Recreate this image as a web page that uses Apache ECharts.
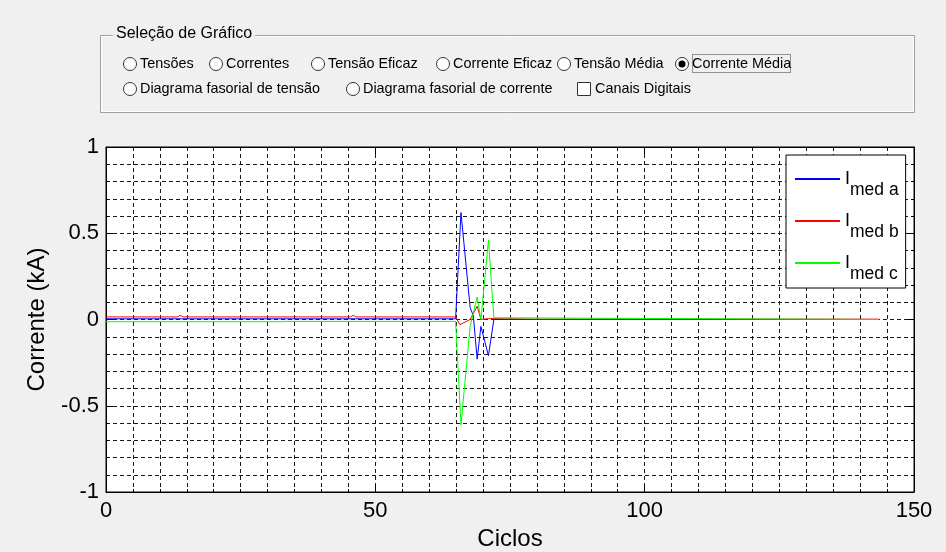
<!DOCTYPE html>
<html>
<head>
<meta charset="utf-8">
<script src="https://cdn.jsdelivr.net/npm/echarts@6/dist/echarts.min.js"></script>
<style>
html,body{margin:0;padding:0;background:#f0f0f0;}
#c{width:946px;height:552px;}
</style>
</head>
<body>
<div id="c"></div>
<script>
// ---- data ----
const seriesNames = ['Imed a', 'Imed b', 'Imed c'];
const ciclosA   = [0,     30,    64.9,  65.9, 67.6, 68.2, 68.9,  69.6,  71.0,  72.0, 80.2, 143.5];
const correnteA = [0.004, 0.004, 0.004, 0.62, 0.07, 0.02, -0.23, -0.04, -0.21, 0.0,  0.0,  0.0];
const ciclosB   = [0,     13.3,  13.8,  14.3,  45.4,  45.9,  46.4,  64.9,  65.7,  67.6, 68.9, 69.6, 71.0, 72.0,  80.2, 143.5];
const correnteB = [0.015, 0.015, 0.025, 0.015, 0.015, 0.025, 0.015, 0.015, -0.03, 0.0,  0.077, 0.0, 0.005, 0.005, 0.002, 0.002];
const ciclosC   = [0,      33.0,   33.4,   64.9,   65.9,  67.6,  68.9, 69.6, 71.0, 72.0, 143.5];
const correnteC = [-0.013, -0.013, -0.011, -0.011, -0.61, -0.04, 0.13, 0.0,  0.46, 0.01, 0.0];
const xTicks = {min: 0, max: 150, major: 50, minorSplit: 10};
const yTicks = {min: -1, max: 1, major: 0.5, minorSplit: 5};
const radioRow1 = ['Tensões', 'Correntes', 'Tensão Eficaz', 'Corrente Eficaz', 'Tensão Média', 'Corrente Média'];
const radioRow2 = ['Diagrama fasorial de tensão', 'Diagrama fasorial de corrente'];
const checkLabel = 'Canais Digitais';
const panelTitle = 'Seleção de Gráfico';

const zip = (xs, ys) => xs.map((x, i) => [x, ys[i]]);
const FONT = 'Liberation Sans, Arial, sans-serif';

// ---- panel graphics ----
const graphics = [];
graphics.push({type:'rect', shape:{x:100.5, y:35.5, width:814, height:77},
  style:{fill:'none', stroke:'#a0a0a0', lineWidth:1}, silent:true});
graphics.push({type:'rect', shape:{x:101.5, y:36.5, width:812, height:75},
  style:{fill:'none', stroke:'#ffffff', lineWidth:1}, silent:true});
graphics.push({type:'text', left:113, top:26, style:{text:panelTitle, font:'16px ' + FONT,
  fill:'#000', backgroundColor:'#f0f0f0', padding:[0,3,0,3]}});
const row1X = [130, 216, 318, 443, 564, 682];
const row2X = [130, 353];
function radio(cx, cy, label, selected) {
  graphics.push({type:'circle', shape:{cx:cx, cy:cy, r:6.5},
    style:{fill:'#fff', stroke:'#333', lineWidth:1}});
  if (selected) graphics.push({type:'circle', shape:{cx:cx, cy:cy, r:3.5}, style:{fill:'#000'}});
  graphics.push({type:'text', x:cx + 10, y:cy, style:{text:label, font:'14.4px ' + FONT,
    fill:'#000', textVerticalAlign:'middle'}});
}
radioRow1.forEach((t, i) => radio(row1X[i], 64, t, i === 5));
radioRow2.forEach((t, i) => radio(row2X[i], 89, t, false));
graphics.push({type:'rect', shape:{x:577.5, y:82.5, width:13, height:13},
  style:{fill:'#fff', stroke:'#333', lineWidth:1}});
graphics.push({type:'text', x:595, y:89, style:{text:checkLabel, font:'14.4px ' + FONT,
  fill:'#000', textVerticalAlign:'middle'}});
graphics.push({type:'rect', shape:{x:692.5, y:54.5, width:98, height:18},
  style:{fill:'none', stroke:'#333', lineWidth:1, lineDash:[1,1]}});

const dashed = {show:true, lineStyle:{color:'#1a1a1a', type:[4,3], width:1}};
function xAxisDef(pos, showLabel) {
  return {
    type:'value', position:pos, min:xTicks.min, max:xTicks.max, interval:xTicks.major,
    name: showLabel ? 'Ciclos' : '', nameLocation:'middle', nameGap:33,
    nameTextStyle:{fontSize:24, fontFamily:FONT, color:'#000'},
    axisLine:{show:true, onZero:false, lineStyle:{color:'#000', width:1}},
    axisTick:{show:true, inside:true, length:7, lineStyle:{color:'#000'}},
    minorTick:{show:true, splitNumber:xTicks.minorSplit, length:3, lineStyle:{color:'#000'}},
    axisLabel:{show:showLabel, fontSize:22, fontFamily:FONT, color:'#000', margin:8},
    splitLine: showLabel ? dashed : {show:false},
    minorSplitLine: showLabel ? dashed : {show:false}
  };
}
function yAxisDef(pos, showLabel) {
  return {
    type:'value', position:pos, min:yTicks.min, max:yTicks.max, interval:yTicks.major,
    name: showLabel ? 'Corrente (kA)' : '', nameLocation:'middle', nameGap:57,
    nameTextStyle:{fontSize:24, fontFamily:FONT, color:'#000'},
    axisLine:{show:true, onZero:false, lineStyle:{color:'#000', width:1}},
    axisTick:{show:true, inside:true, length:7, lineStyle:{color:'#000'}},
    minorTick:{show:true, splitNumber:yTicks.minorSplit, length:3, lineStyle:{color:'#000'}},
    axisLabel:{show:showLabel, fontSize:22, fontFamily:FONT, color:'#000', margin:7},
    splitLine: showLabel ? dashed : {show:false},
    minorSplitLine: showLabel ? dashed : {show:false}
  };
}

const colors = ['#0000ff', '#ff0000', '#00ff00'];
const datasets = [zip(ciclosA, correnteA), zip(ciclosB, correnteB), zip(ciclosC, correnteC)];

const chart = echarts.init(document.getElementById('c'), null, {renderer:'canvas'});
chart.setOption({
  backgroundColor:'#f0f0f0',
  animation:false,
  textStyle:{fontFamily:FONT},
  grid:{left:106, top:147, width:808, height:345, show:true, backgroundColor:'#fff',
    borderColor:'#000', borderWidth:1, containLabel:false, outerBoundsMode:'none'},
  xAxis:[xAxisDef('bottom', true), xAxisDef('top', false)],
  yAxis:[yAxisDef('left', true), yAxisDef('right', false)],
  legend:{
    orient:'vertical', left:786, top:155, data:seriesNames,
    backgroundColor:'#fff', borderColor:'#000', borderWidth:1,
    padding:[4,7,5,9], itemGap:2, itemWidth:45, itemHeight:2,
    icon:'rect',
    formatter: name => '{i|I}{s|' + name.slice(1) + '}',
    textStyle:{color:'#000', fontFamily:FONT, rich:{
      i:{fontSize:18, lineHeight:18, fontFamily:FONT, color:'#000'},
      s:{fontSize:17.5, lineHeight:17, padding:[22,0,0,0], fontFamily:FONT, color:'#000'}
    }}
  },
  series: seriesNames.map((n, i) => ({
    name:n, type:'line', data:datasets[i], symbol:'none', showSymbol:false,
    xAxisIndex:0, yAxisIndex:0,
    color:colors[i], lineStyle:{width:1, color:colors[i]}
  })),
  graphic:graphics
});
</script>
</body>
</html>
